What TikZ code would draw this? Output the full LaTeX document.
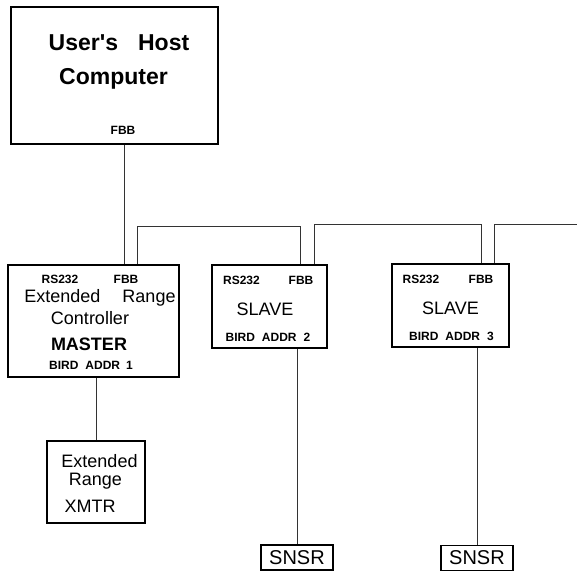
\documentclass[tikz,border=0pt]{standalone}
\usepackage{fontspec}
\setmainfont{Liberation Sans}
\newfontfamily\hostfont{Liberation Sans}[Ligatures=ResetAll]
\usetikzlibrary{positioning}
\tikzset{
  unitBox/.style={rectangle, draw, line width=1.6pt, inner sep=0pt},
  sensorBox/.style={rectangle, draw, line width=1.4pt, inner sep=0pt,
    minimum width=72pt, minimum height=25pt, font=\fontsize{20}{22}\selectfont},
  portLabel/.style={font=\fontsize{12}{14}\selectfont\bfseries, inner sep=0pt},
  bigLabel/.style={font=\fontsize{18}{20}\selectfont, inner sep=0pt},
  bigBold/.style={font=\fontsize{18}{20}\selectfont\bfseries, inner sep=0pt},
  hostLabel/.style={font=\hostfont\fontsize{23}{26}\selectfont\bfseries, inner sep=0pt},
  wire/.style={line width=0.8pt, black!80}
}
\begin{document}
\begin{tikzpicture}[x=1pt, y=-1pt]
  \useasboundingbox (0,0) rectangle (579,571);

  % boxes
  \node[unitBox, minimum width=207pt, minimum height=137pt] (host) at (114.5,75.5) {};
  \node[unitBox, minimum width=171pt, minimum height=112pt] (master) at (93.5,321) {};
  \node[unitBox, minimum width=115pt, minimum height=83pt] (slaveA) at (269.5,306.5) {};
  \node[unitBox, minimum width=117pt, minimum height=83pt] (slaveB) at (450.5,305.5) {};
  \node[unitBox, minimum width=98pt, minimum height=82pt] (xmtr) at (96,482) {};
  \node[sensorBox] (snsrA) at (297,557.5) {SNSR};
  \node[sensorBox] (snsrB) at (477,558) {SNSR};

  % host text
  \node[hostLabel] (hostTop) at (119,43) {User's\hspace{20pt}Host};
  \node[hostLabel] (hostBottom) at (113.5,79) {Computer};
  \node[portLabel] (hostFbb) at (123,130) {FBB};

  % master text
  \node[portLabel] (masRs) at (60,279) {RS232};
  \node[portLabel] (masFbb) at (126,279) {FBB};
  \node[bigLabel] (masExt) at (100,298) {Extended\hspace{22pt}Range};
  \node[bigLabel] (masCtl) at (90,318) {Controller};
  \node[bigBold] (masRole) at (89,344) {MASTER};
  \node[portLabel] (masAddr) at (91,365) {BIRD\hspace{7pt}ADDR\hspace{6pt}1};

  % slave text
  \node[portLabel] (slaARs) at (241.5,280) {RS232};
  \node[portLabel] (slaAFbb) at (301,280) {FBB};
  \node[bigLabel] (slaARole) at (265,309) {SLAVE};
  \node[portLabel] (slaAAddr) at (268,337) {BIRD\hspace{7pt}ADDR\hspace{7pt}2};
  \node[portLabel] (slaBRs) at (421,279) {RS232};
  \node[portLabel] (slaBFbb) at (481,279) {FBB};
  \node[bigLabel] (slaBRole) at (450.5,308) {SLAVE};
  \node[portLabel] (slaBAddr) at (451.5,336) {BIRD\hspace{7pt}ADDR\hspace{7pt}3};

  % transmitter text
  \node[bigLabel] (xmtrTop) at (99.5,461) {Extended};
  \node[bigLabel] (xmtrMid) at (95.5,481) {Range};
  \node[bigLabel] (xmtrBot) at (90,506) {XMTR};

  % bus points
  \coordinate (busA) at (137,226);
  \coordinate (dropA) at (300,226);
  \coordinate (busB) at (314,224);
  \coordinate (dropB) at (481,224);
  \coordinate (busC) at (494,224);
  \coordinate (busEnd) at (577,224);

  % connectors
  \draw[wire] (host.south -| 124,0) -- (master.north -| 124,0);
  \draw[wire] (master.north -| busA) -- (busA) -- (dropA) -- (slaveA.north -| dropA);
  \draw[wire] (slaveA.north -| busB) -- (busB) -- (dropB) -- (slaveB.north -| dropB);
  \draw[wire] (slaveB.north -| busC) -- (busC) -- (busEnd);
  \draw[wire] (master.south -| xmtr.north) -- (xmtr.north);
  \draw[wire] (slaveA.south -| snsrA.north) -- (snsrA.north);
  \draw[wire] (slaveB.south -| snsrB.north) -- (snsrB.north);
\end{tikzpicture}
\end{document}
